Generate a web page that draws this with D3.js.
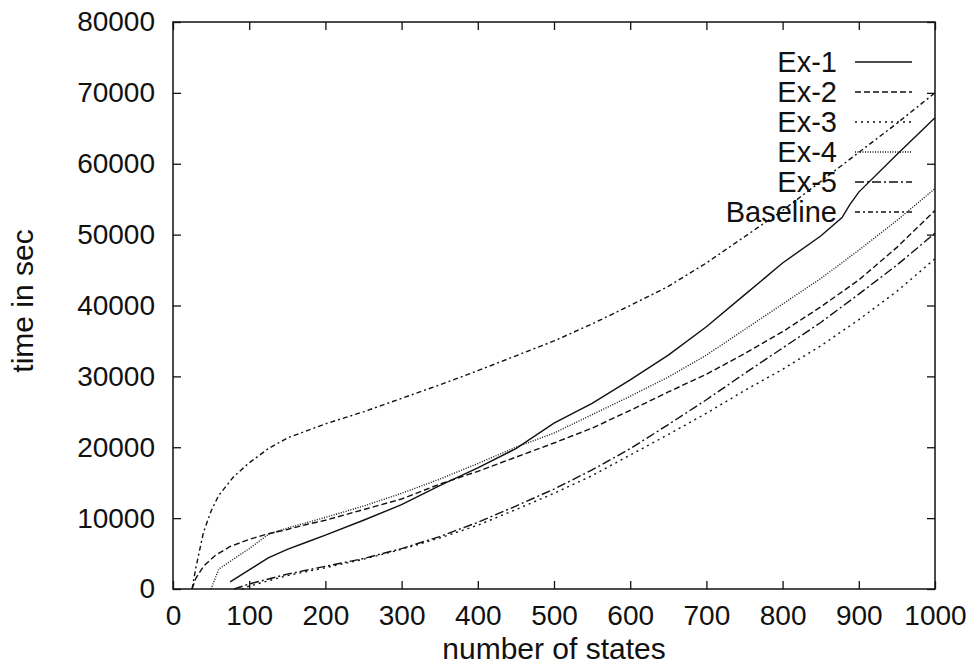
<!DOCTYPE html>
<html>
<head>
<meta charset="utf-8">
<script src="https://cdn.jsdelivr.net/npm/d3@7"></script>
<style>
  body { margin: 0; background: #fff; }
  text { font-family: "Liberation Sans", Arial, sans-serif; fill: #111; }
</style>
</head>
<body>
<svg id="chart"></svg>
<script>
const width = 971, height = 665;
const marginLeft = 173, marginRight = 36, marginTop = 22, marginBottom = 76;

// series data: [number of states, time in sec]
const ex1 = [[75,1000],[100,2700],[125,4400],[150,5600],[175,6600],[200,7600],[250,9700],[300,11900],[350,14600],[400,17100],[450,19800],[500,23400],[550,26200],[600,29500],[650,33000],[700,37000],[750,41500],[800,46000],[850,49800],[878,52400],[888,54200],[900,56000],[950,61300],[1000,66500]];
const ex2 = [[25,0],[30,1500],[40,3200],[55,4700],[75,6000],[100,7000],[125,7800],[150,8400],[175,9100],[200,9700],[250,11200],[300,12700],[350,14800],[400,16600],[450,18600],[500,20600],[550,22700],[600,25200],[650,27800],[700,30300],[750,33200],[800,36300],[850,39800],[900,43600],[950,48200],[1000,53400]];
const ex3 = [[90,0],[100,400],[150,1900],[200,3000],[250,4200],[300,5600],[350,7200],[400,9000],[450,11200],[500,13500],[550,16000],[600,18900],[650,21800],[700,24800],[750,28000],[800,31000],[850,34300],[900,38000],[950,42000],[1000,46600]];
const ex4 = [[50,0],[60,2800],[75,3900],[100,5700],[125,7700],[150,8600],[200,10100],[250,11700],[300,13500],[350,15500],[400,17700],[450,20000],[500,22000],[550,24600],[600,27200],[650,29900],[700,33000],[750,36600],[800,40200],[850,43800],[900,47800],[950,52000],[1000,56500]];
const ex5 = [[80,0],[100,700],[150,2100],[200,3200],[250,4300],[300,5700],[350,7400],[400,9400],[450,11700],[500,14100],[550,16800],[600,19800],[650,23200],[700,26700],[750,30400],[800,34000],[850,37600],[900,41600],[950,45700],[1000,50200]];
const baseline = [[25,0],[30,3000],[40,8000],[50,11000],[60,13200],[80,15900],[100,17800],[125,19800],[150,21300],[200,23300],[250,25000],[300,26900],[350,28800],[400,30800],[450,32900],[500,35000],[550,37400],[600,40000],[650,42700],[700,46000],[750,49700],[800,53400],[850,57500],[900,61600],[950,65700],[1000,70000]];

const seriesNames = ['Ex-1', 'Ex-2', 'Ex-3', 'Ex-4', 'Ex-5', 'Baseline'];
const seriesData = [ex1, ex2, ex3, ex4, ex5, baseline];
const dashes = ['none', '6,3', '2,4', '1,1.5', '9,3,2,3', '5,3,2,3'];

const xTicks = [0,100,200,300,400,500,600,700,800,900,1000];
const yTicks = [0,10000,20000,30000,40000,50000,60000,70000,80000];

const svg = d3.select('#chart')
  .attr('width', width)
  .attr('height', height);

const x = d3.scaleLinear().domain([0, 1000]).range([marginLeft, width - marginRight]);
const y = d3.scaleLinear().domain([0, 80000]).range([height - marginBottom, marginTop]);

// frame
svg.append('rect')
  .attr('x', x(0)).attr('y', y(80000))
  .attr('width', x(1000) - x(0)).attr('height', y(0) - y(80000))
  .attr('fill', 'none').attr('stroke', '#111').attr('stroke-width', 1.5);

// axes, ticks pointing inward, mirrored on top and right
const tickLen = 8;
svg.append('g')
  .attr('transform', `translate(0,${y(0)})`)
  .call(d3.axisBottom(x).tickValues(xTicks).tickSize(-tickLen).tickPadding(16).tickFormat(d3.format('d')))
  .call(g => g.select('.domain').remove());
svg.append('g')
  .attr('transform', `translate(0,${y(80000)})`)
  .call(d3.axisTop(x).tickValues(xTicks).tickSize(-tickLen).tickFormat(''))
  .call(g => g.select('.domain').remove());
svg.append('g')
  .attr('transform', `translate(${x(0)},0)`)
  .call(d3.axisLeft(y).tickValues(yTicks).tickSize(-tickLen).tickPadding(18).tickFormat(d3.format('d')))
  .call(g => g.select('.domain').remove());
svg.append('g')
  .attr('transform', `translate(${x(1000)},0)`)
  .call(d3.axisRight(y).tickValues(yTicks).tickSize(-tickLen).tickFormat(''))
  .call(g => g.select('.domain').remove());

svg.selectAll('.tick line').attr('stroke', '#111').attr('stroke-width', 1.3);
svg.selectAll('.tick text')
  .style('font-family', '"Liberation Sans", Arial, sans-serif')
  .style('font-size', '28px')
  .attr('fill', '#111');

// axis titles
svg.append('text')
  .attr('x', (x(0) + x(1000)) / 2).attr('y', 659)
  .attr('text-anchor', 'middle')
  .style('font-size', '30px')
  .text('number of states');
svg.append('text')
  .attr('transform', 'translate(33,301) rotate(-90)')
  .attr('text-anchor', 'middle')
  .style('font-size', '30px')
  .text('time in sec');

// curves
const line = d3.line().x(d => x(d[0])).y(d => y(d[1]));
svg.append('g')
  .selectAll('path')
  .data(seriesData)
  .join('path')
  .attr('d', line)
  .attr('fill', 'none')
  .attr('stroke', '#111')
  .attr('stroke-width', 1.4)
  .attr('stroke-dasharray', (d, i) => dashes[i]);

// legend
const legend = svg.append('g');
seriesNames.forEach((name, i) => {
  const ly = 62 + i * 30;
  legend.append('text')
    .attr('x', 837).attr('y', ly)
    .attr('text-anchor', 'end')
    .attr('dominant-baseline', 'central')
    .style('font-size', '29px')
    .text(name);
  legend.append('line')
    .attr('x1', 855).attr('x2', 912)
    .attr('y1', ly).attr('y2', ly)
    .attr('stroke', '#111')
    .attr('stroke-width', 1.4)
    .attr('stroke-dasharray', dashes[i]);
});
</script>
</body>
</html>
